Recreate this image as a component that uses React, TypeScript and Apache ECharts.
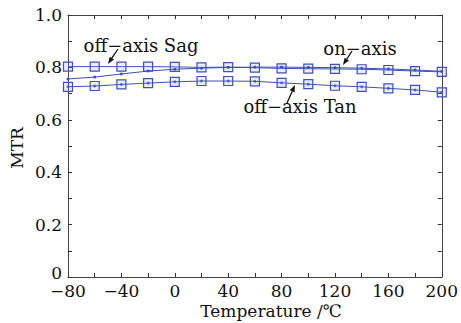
import React, { useEffect, useRef } from "react";
import * as echarts from "echarts";

const temps = [-80, -60, -40, -20, 0, 20, 40, 60, 80, 100, 120, 140, 160, 180, 200];
const sagValues = [0.803, 0.803, 0.803, 0.803, 0.802, 0.800, 0.801, 0.799, 0.796, 0.795, 0.794, 0.793, 0.790, 0.786, 0.783];
const onAxisValues = [0.756, 0.763, 0.775, 0.786, 0.793, 0.797, 0.800, 0.801, 0.801, 0.800, 0.799, 0.797, 0.794, 0.790, 0.785];
const tanValues = [0.726, 0.729, 0.735, 0.740, 0.745, 0.748, 0.748, 0.747, 0.741, 0.736, 0.730, 0.726, 0.720, 0.714, 0.705];

const FONT = "DejaVu Serif";
const BLUE = "#3f50b8";

function pair(vals: number[]) {
  return temps.map((t, i) => [t, vals[i]]);
}

function arrow(x1: number, y1: number, x2: number, y2: number) {
  const dx = x2 - x1, dy = y2 - y1;
  const len = Math.sqrt(dx * dx + dy * dy);
  const ux = dx / len, uy = dy / len;
  const hl = 7, hw = 2.6;
  const bx = x2 - ux * hl, by = y2 - uy * hl;
  return [
    { type: "line", shape: { x1, y1, x2: bx, y2: by }, style: { stroke: "#111", lineWidth: 1.3 }, z: 10 },
    {
      type: "polygon",
      shape: { points: [[x2, y2], [bx - uy * hw, by + ux * hw], [bx + uy * hw, by - ux * hw]] },
      style: { fill: "#111" },
      z: 10,
    },
  ];
}

export default function App() {
  const ref = useRef<HTMLDivElement>(null);
  useEffect(() => {
    const chart = echarts.init(ref.current!, null, { renderer: "svg" });
    const fmtX = (v: number) => (v % 40 === 0 ? (v < 0 ? "\u2212" + Math.abs(v) : String(v)) : "");
    const fmtY = (v: number) => {
      const k = Math.round(v * 10);
      if (k % 2 !== 0) return "";
      return k === 0 ? "{z|0}" : (k / 10).toFixed(1);
    };
    const tickStyle = { show: true, inside: true, length: 4, lineStyle: { color: "#333", width: 1 } };
    const lineStyle = { show: true, onZero: false, lineStyle: { color: "#444", width: 1 } };
    const markerStyle = { color: "rgba(140,155,225,0.18)", borderColor: BLUE, borderWidth: 1.2 };
    const labelFont = { fontFamily: FONT, fontSize: 17, color: "#111" };
    chart.setOption({
      animation: false,
      backgroundColor: "#fff",
      grid: { left: 68, right: 18, top: 15, bottom: 46 },
      xAxis: [
        {
          type: "value", min: -80, max: 200, interval: 20,
          axisLine: lineStyle, axisTick: tickStyle, splitLine: { show: false },
          axisLabel: { formatter: fmtX, ...labelFont, margin: 5, showMinLabel: true, showMaxLabel: true },
        },
        {
          type: "value", min: -80, max: 200, interval: 20, position: "top",
          axisLine: lineStyle, axisTick: tickStyle, splitLine: { show: false }, axisLabel: { show: false },
        },
      ],
      yAxis: [
        {
          type: "value", min: 0, max: 1, interval: 0.1,
          axisLine: lineStyle, axisTick: tickStyle, splitLine: { show: false },
          axisLabel: {
            formatter: fmtY, ...labelFont, margin: 6,
            rich: { z: { fontFamily: FONT, fontSize: 17, color: "#111", padding: [0, 0, 8, 0] } },
          },
        },
        {
          type: "value", min: 0, max: 1, interval: 0.1, position: "right",
          axisLine: lineStyle, axisTick: tickStyle, splitLine: { show: false }, axisLabel: { show: false },
        },
      ],
      series: [
        {
          type: "line", data: pair(sagValues), symbol: "rect", symbolSize: 9,
          lineStyle: { color: BLUE, width: 1 }, itemStyle: markerStyle, z: 3,
        },
        {
          type: "line", data: pair(onAxisValues), symbol: "circle", symbolSize: 3,
          lineStyle: { color: BLUE, width: 1 }, itemStyle: { color: BLUE }, z: 4,
        },
        {
          type: "line", data: pair(tanValues), symbol: "rect", symbolSize: 9,
          lineStyle: { color: BLUE, width: 1 }, itemStyle: markerStyle, z: 3,
        },
        {
          type: "scatter", data: pair(tanValues), symbol: "circle", symbolSize: 3,
          itemStyle: { color: BLUE }, z: 4,
        },
      ],
      graphic: [
        { type: "text", x: 17, y: 148, rotation: Math.PI / 2, style: { text: "MTR", font: `17px "${FONT}"`, fill: "#111", textAlign: "center", textVerticalAlign: "middle" } },
        { type: "text", x: 271, y: 311, style: { text: "Temperature /\u2103", font: `17px "${FONT}"`, fill: "#111", textAlign: "center", textVerticalAlign: "middle" } },
        { type: "text", x: 141, y: 45, style: { text: "off\u2212axis Sag", font: `18px "${FONT}"`, fill: "#111", textAlign: "center", textVerticalAlign: "middle" }, z: 10 },
        { type: "text", x: 360, y: 48, style: { text: "on\u2212axis", font: `18px "${FONT}"`, fill: "#111", textAlign: "center", textVerticalAlign: "middle" }, z: 10 },
        { type: "text", x: 300, y: 106, style: { text: "off\u2212axis Tan", font: `18px "${FONT}"`, fill: "#111", textAlign: "center", textVerticalAlign: "middle" }, z: 10 },
        ...arrow(118, 49, 108, 64),
        ...arrow(352, 51, 343, 65),
        ...arrow(287, 103, 295, 85),
      ],
    });
    return () => chart.dispose();
  }, []);
  return <div ref={ref} style={{ position: "fixed", left: 0, top: 0, width: 461, height: 323 }} />;
}
